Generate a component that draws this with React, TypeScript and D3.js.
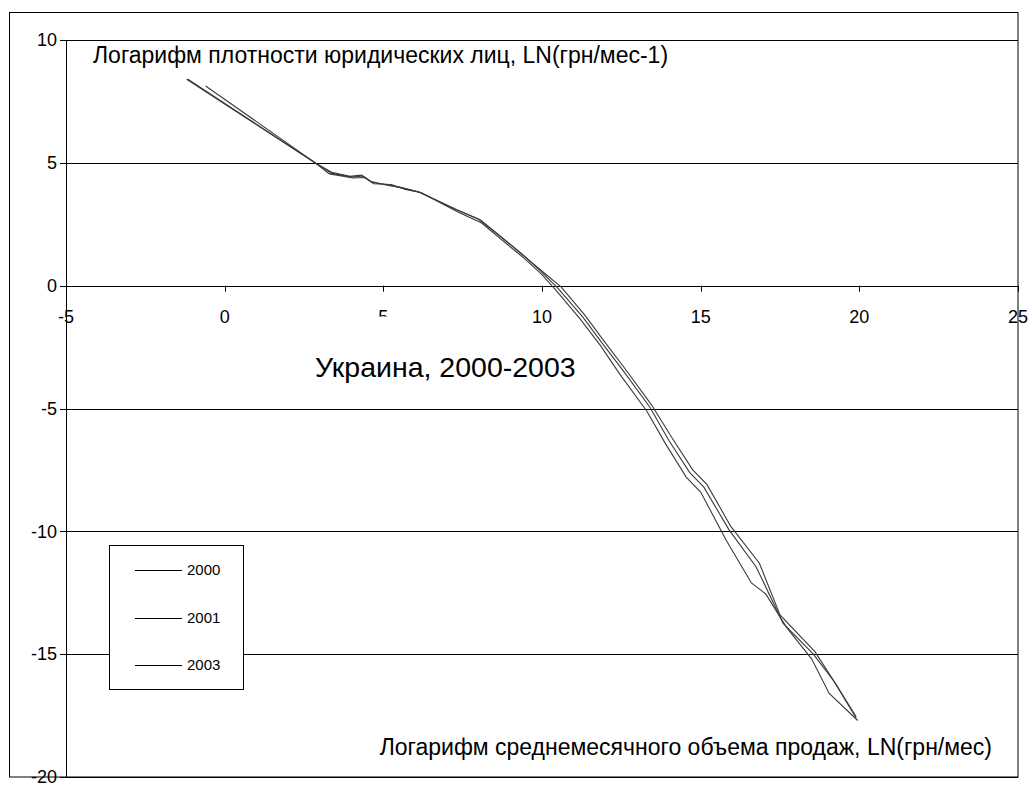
import React from "react";
import * as d3 from "d3";

const seriesNames = ["2000", "2001", "2003"];

const s2000: [number, number][] = [
  [-1.17, 8.41], [2.85, 5.0], [3.36, 4.58], [4.0, 4.42], [4.35, 4.47], [4.65, 4.2], [5.2, 4.1],
  [5.6, 3.97], [6.15, 3.8], [7.3, 3.1], [8.05, 2.68], [8.7, 2.0], [9.4, 1.25], [9.95, 0.6],
  [10.5, -0.1], [11.3, -1.3], [11.9, -2.35], [12.55, -3.45], [13.4, -4.95], [14.0, -6.3],
  [14.65, -7.6], [15.1, -8.2], [15.9, -9.95], [16.75, -11.45], [17.6, -13.75], [18.55, -15.0],
  [19.2, -16.1], [19.9, -17.6],
];
const s2001: [number, number][] = [
  [-0.6, 8.13], [2.8, 5.05], [3.3, 4.55], [4.05, 4.38], [4.4, 4.4], [4.7, 4.15], [5.25, 4.12],
  [5.7, 3.92], [6.2, 3.78], [7.35, 3.0], [8.1, 2.55], [8.75, 1.85], [9.45, 1.1], [10.0, 0.45],
  [10.45, -0.2], [11.2, -1.35], [11.85, -2.45], [12.45, -3.6], [13.3, -5.1], [13.9, -6.45],
  [14.55, -7.8], [15.0, -8.4], [15.8, -10.35], [16.6, -12.1], [17.05, -12.55], [17.7, -13.9],
  [18.5, -15.2], [19.05, -16.6], [19.95, -17.7],
];
const s2003: [number, number][] = [
  [-1.2, 8.4], [2.87, 4.98], [3.4, 4.6], [3.95, 4.45], [4.3, 4.5], [4.6, 4.25], [5.15, 4.08],
  [5.55, 4.0], [6.1, 3.82], [7.25, 3.12], [8.0, 2.7], [8.65, 2.05], [9.35, 1.3], [9.9, 0.7],
  [10.6, -0.05], [11.35, -1.2], [11.95, -2.25], [12.6, -3.35], [13.45, -4.85], [14.1, -6.2],
  [14.75, -7.5], [15.2, -8.1], [15.95, -9.8], [16.85, -11.3], [17.5, -13.4], [18.6, -14.9],
  [19.3, -16.3], [19.9, -17.55],
];
const allSeries = [s2000, s2001, s2003];

const xTicks = [-5, 0, 5, 10, 15, 20, 25];
const yTicks = [10, 5, 0, -5, -10, -15, -20];

const yTitle = "Логарифм плотности юридических лиц, LN(грн/мес-1)";
const xTitle = "Логарифм среднемесячного объема продаж, LN(грн/мес)";
const chartTitle = "Украина, 2000-2003";

export default function App() {
  const W = 1032, H = 796;
  const x = d3.scaleLinear().domain([-5, 25]).range([66, 1018]);
  const y = d3.scaleLinear().domain([-20, 10]).range([777, 40]);
  const line = d3.line<[number, number]>().x((d) => x(d[0])).y((d) => y(d[1]));
  const font = "'Liberation Sans', Arial, sans-serif";
  const px = (v: number) => Math.round(v) + 0.5;

  return (
    <svg width={W} height={H} style={{ position: "absolute", left: 0, top: 0, background: "#fff" }} fontFamily={font}>
      <rect x={0} y={0} width={W} height={H} fill="#fff" />
      <rect x={9.5} y={12.5} width={1008.5} height={764.5} fill="none" stroke="#000" strokeWidth={1} />
      {yTicks.map((t) => (
        <line key={"g" + t} x1={x(-5)} x2={x(25)} y1={px(y(t))} y2={px(y(t))} stroke="#000" strokeWidth={1} />
      ))}
      <line x1={px(x(-5))} x2={px(x(-5))} y1={y(10)} y2={y(-20)} stroke="#000" />
      {yTicks.map((t) => (
        <g key={"yt" + t}>
          <line x1={x(-5) - 6} x2={x(-5)} y1={px(y(t))} y2={px(y(t))} stroke="#000" />
          <text x={57} y={y(t)} dy="0.35em" textAnchor="end" fontSize={18} fill="#000">{t}</text>
        </g>
      ))}
      {xTicks.map((t) => (
        <g key={"xt" + t}>
          <line x1={px(x(t))} x2={px(x(t))} y1={y(0)} y2={y(0) + 6} stroke="#000" />
          <text x={x(t)} y={317} dy="0.35em" textAnchor="middle" fontSize={18} fill="#000">{t}</text>
        </g>
      ))}
      {allSeries.map((s, i) => (
        <path key={"s" + i} d={line(s) || ""} fill="none" stroke="#3a3a3a" strokeWidth={1.1} />
      ))}
      <rect x={310} y={316.5} width={215} height={70} fill="#fff" />
      <text x={315} y={377} fontSize={28.5} fill="#000">{chartTitle}</text>
      <text x={93} y={63} fontSize={23} fill="#000">{yTitle}</text>
      <text x={992} y={755} textAnchor="end" fontSize={23} fill="#000">{xTitle}</text>
      <rect x={109.5} y={545.5} width={134} height={144} fill="#fff" stroke="#000" strokeWidth={1} />
      {seriesNames.map((n, i) => {
        const cy = Math.round(570 + i * 47.5);
        return (
          <g key={"l" + n}>
            <line x1={135} x2={182} y1={cy + 0.5} y2={cy + 0.5} stroke="#000" />
            <text x={187} y={cy} dy="0.35em" fontSize={15} fill="#000">{n}</text>
          </g>
        );
      })}
    </svg>
  );
}
